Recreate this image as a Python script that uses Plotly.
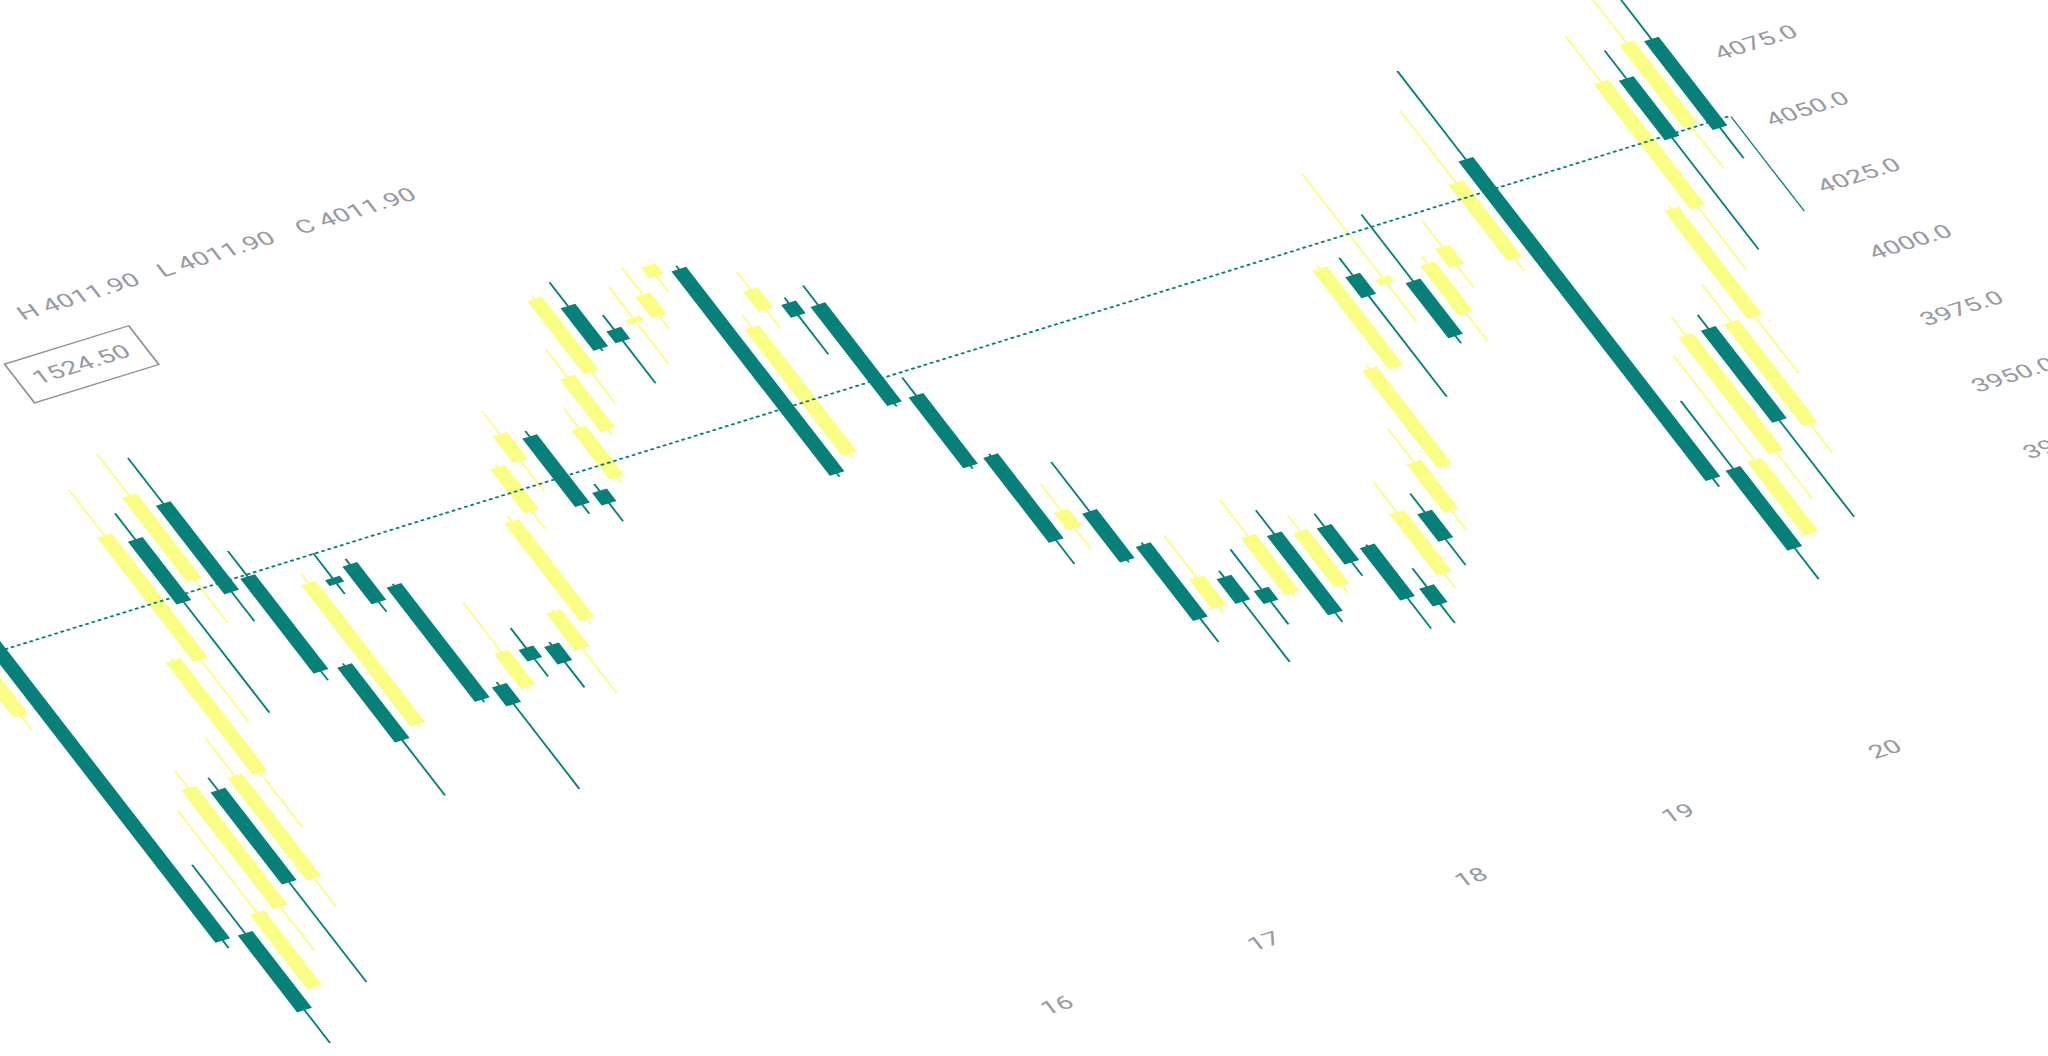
import plotly.graph_objects as go

# ---------------- data ----------------
# bar times in days of the month: two sessions of evenly spaced bars
session_start = [12.836, 20.037]
session_bars = [65, 13]
bar_step = 0.10866

opens = [4033.5, 4066.4, 3946.1, 3923.8, 3951.1, 3992.1, 3956.7, 3993.8, 4033.6, 4075.9,
         4058.4, 4084.2, 4054.1, 4018.0, 3993.7, 4045.7, 4048.2, 4037.7, 3997.5, 3994.8,
         4006.4, 4004.9, 4001.3, 4009.9, 4047.7, 4064.0, 4070.1, 4047.1, 4049.9, 4065.3,
         4084.3, 4106.1, 4094.8, 4095.0, 4095.0, 4107.3, 4106.9, 4035.3, 4086.9, 4086.4,
         4083.1, 4046.4, 4021.1, 3991.7, 3994.9, 3979.8, 3954.2, 3962.4, 3955.3, 3951.6,
         3970.8, 3949.2, 3968.4, 3958.4, 3940.5, 3943.2, 3963.3, 3961.7, 3975.8, 4010.4,
         4041.9, 4036.6, 4034.5, 4020.2, 4035.5,
         4032.1, 4066.4, 3947.6, 3921.0, 3948.9, 3992.4, 3954.3, 3992.0, 4030.6, 4075.9,
         4055.9, 4085.5, 4054.5]
highs = [4087.5, 4099.8, 3972.1, 3990.2, 4002.3, 3997.0, 4009.1, 4036.6, 4097.4, 4085.9,
         4105.8, 4101.5, 4063.9, 4019.0, 4050.3, 4055.3, 4050.5, 4038.5, 3999.0, 4026.3,
         4014.0, 4006.2, 4016.0, 4048.5, 4065.0, 4082.3, 4072.4, 4049.9, 4075.7, 4095.1,
         4113.0, 4115.3, 4100.3, 4108.2, 4112.8, 4111.7, 4108.4, 4087.2, 4100.7, 4088.6,
         4090.5, 4053.3, 4022.0, 4007.8, 4013.7, 3980.8, 3980.9, 3965.0, 3970.4, 3986.5,
         3979.9, 3975.4, 3973.3, 3959.1, 3947.6, 3977.5, 3970.5, 3992.2, 4013.5, 4048.7,
         4048.6, 4077.7, 4059.7, 4041.2, 4051.9,
         4087.5, 4099.8, 3973.2, 3987.6, 3999.7, 3997.7, 4006.5, 4033.6, 4094.8, 4086.6,
         4108.0, 4104.0, 4063.9]
lows = [4028.4, 3943.4, 3905.1, 3922.5, 3934.6, 3920.2, 3945.9, 3973.1, 4010.2, 4011.0,
        4042.2, 4040.1, 4015.3, 3969.4, 3992.5, 4039.9, 4030.6, 3994.0, 3958.8, 3993.5,
        3995.8, 3989.1, 3984.1, 4007.8, 4040.9, 4052.3, 4041.3, 4035.9, 4047.8, 4063.0,
        4072.4, 4089.4, 4074.7, 4079.2, 4089.8, 4101.3, 4029.1, 4033.3, 4079.5, 4067.3,
        4045.0, 4019.0, 3980.6, 3983.5, 3976.0, 3943.4, 3952.0, 3930.7, 3942.2, 3950.0,
        3937.9, 3946.0, 3950.0, 3927.6, 3927.0, 3937.4, 3943.6, 3954.2, 3974.5, 4009.0,
        3996.4, 4022.1, 4011.3, 4009.4, 4026.6,
        4027.2, 3943.6, 3906.2, 3920.0, 3931.3, 3921.8, 3943.3, 3970.5, 4007.1, 4011.8,
        4039.9, 4040.9, 4015.3]
closes = [4060.3, 3946.5, 3917.7, 3951.3, 3995.5, 3957.9, 3994.9, 4035.7, 4079.9, 4052.7,
          4089.7, 4051.3, 4018.9, 3990.4, 4046.4, 4044.0, 4034.5, 3995.2, 3990.9, 4007.5,
          4002.5, 3998.8, 4014.8, 4046.1, 4063.8, 4073.6, 4044.9, 4042.9, 4068.2, 4084.6,
          4111.4, 4090.6, 4090.8, 4096.5, 4102.6, 4110.9, 4030.5, 4082.4, 4094.0, 4082.1,
          4046.3, 4020.3, 3989.6, 3997.8, 3977.0, 3952.4, 3964.8, 3953.6, 3950.9, 3972.6,
          3941.5, 3969.1, 3955.3, 3939.2, 3934.3, 3965.9, 3953.4, 3979.5, 4012.0, 4047.0,
          4034.5, 4038.4, 4014.2, 4038.3, 4042.1,
          4060.3, 3946.8, 3918.0, 3948.2, 3992.4, 3958.2, 3992.2, 4032.1, 4077.2, 4054.0,
          4086.7, 4052.6, 4019.4]

day_ticks = [16, 17, 18, 19, 20]
day_labels = ["16", "17", "18", "19", "20"]
price_ticks = [3925, 3950, 3975, 4000, 4025, 4050, 4075]
price_line = 4055.0
legend_items = ["H 4011.90", "L 4011.90", "C 4011.90"]
legend_x = [14.323, 14.989, 15.665]
legend_y = 4155.0
badge_text = "1524.50"
badge_x, badge_y = 14.135, 4134.3

times = []
for s, n in zip(session_start, session_bars):
    times += [s + i * bar_step for i in range(n)]

# ---------------- styling / geometry ----------------
TEAL = "#08807a"
YELLOW = "#fbfe84"
TEXT = "#979aa2"
FONT = "Roboto, 'Open Sans', sans-serif"

BOXGAP = 0.43
LINE_W = 1.1
PPD = 120.0          # px per day (before the view transform)
PPP = 2.4            # px per price unit
X0 = 12.613
# right edge of the pane sits just inside the left edge of the last body (it is cut off there)
half_body = bar_step * (1 - BOXGAP) / 2 + LINE_W / 2 / PPD
X1 = times[-1] - half_body + 0.7 / PPD
Y0, Y1 = 3853.0, 4170.5
ML, MR, MT, MB = 20, 80, 20, 40
plot_w = (X1 - X0) * PPD
plot_h = (Y1 - Y0) * PPP
W = ML + plot_w + MR
H = int(round(MT + plot_h + MB))

fig = go.Figure()
fig.add_trace(go.Candlestick(
    x=times, open=opens, high=highs, low=lows, close=closes,
    increasing=dict(line=dict(color=YELLOW, width=LINE_W), fillcolor=YELLOW),
    decreasing=dict(line=dict(color=TEAL, width=LINE_W), fillcolor=TEAL),
    whiskerwidth=0, hoverinfo="skip", showlegend=False,
))

fig.add_shape(type="line", xref="paper", x0=0, x1=1, yref="y", y0=price_line, y1=price_line,
              line=dict(color=TEAL, width=1.4, dash="2px,1.6px"), layer="above")

for txt, xv in zip(legend_items, legend_x):
    fig.add_annotation(x=xv, y=legend_y, xref="x", yref="y", text=txt, showarrow=False,
                       xanchor="center", yanchor="middle",
                       font=dict(family=FONT, size=15, color=TEXT))
fig.add_annotation(x=badge_x, y=badge_y, xref="x", yref="y", text=badge_text, showarrow=False,
                   xanchor="center", yanchor="middle", bordercolor="#8c8f96", borderwidth=1,
                   borderpad=8, bgcolor="rgba(255,255,255,0)",
                   font=dict(family=FONT, size=15, color=TEXT))

fig.update_layout(
    width=W, height=H, autosize=False,
    margin=dict(l=ML, r=MR, t=MT, b=MB, pad=0, autoexpand=False),
    paper_bgcolor="white", plot_bgcolor="white",
    boxgap=BOXGAP, boxgroupgap=0,
    font=dict(family=FONT, size=15, color=TEXT),
    xaxis=dict(range=[X0, X1], tickmode="array", tickvals=day_ticks, ticktext=day_labels,
               showgrid=False, zeroline=False, showline=False, ticks="",
               rangeslider=dict(visible=False), fixedrange=True,
               tickfont=dict(family=FONT, size=15, color=TEXT)),
    yaxis=dict(range=[Y0, Y1], side="right", tickmode="array", tickvals=price_ticks,
               ticktext=[f"{v:.1f}" for v in price_ticks],
               showgrid=False, zeroline=False, showline=False, ticks="",
               ticklabelstandoff=14, fixedrange=True,
               tickfont=dict(family=FONT, size=15, color=TEXT)),
)

# ---------------- slanted view (affine CSS transform of the whole chart) ----------------
DX = (207.0, -64.0)   # screen offset of one day
DY = (51.5, 66.5)     # screen offset of 25 price units downward
ANCHOR = (848.5, 405.0)  # screen position of (day 17, 4050)
a, b = DX[0] / PPD, DX[1] / PPD
c, d = DY[0] / (25 * PPP), DY[1] / (25 * PPP)
u17 = ML + (17 - X0) * PPD
v4050 = MT + (Y1 - 4050) * PPP
e = ANCHOR[0] - (a * u17 + c * v4050)
f = ANCHOR[1] - (b * u17 + d * v4050)
mat = ",".join(f"{v:.6f}" for v in (a, b, c, d, e, f))

js = ("var gd=document.getElementById('{plot_id}');"
      "document.documentElement.style.overflow='hidden';"
      "document.body.style.margin='0';document.body.style.overflow='hidden';"
      "gd.style.position='absolute';gd.style.left='0px';gd.style.top='0px';"
      "gd.style.transformOrigin='0 0';"
      "gd.style.transform='matrix(" + mat + ")';")

fig.write_html("out.html", post_script=js, config={"displayModeBar": False, "staticPlot": True})
